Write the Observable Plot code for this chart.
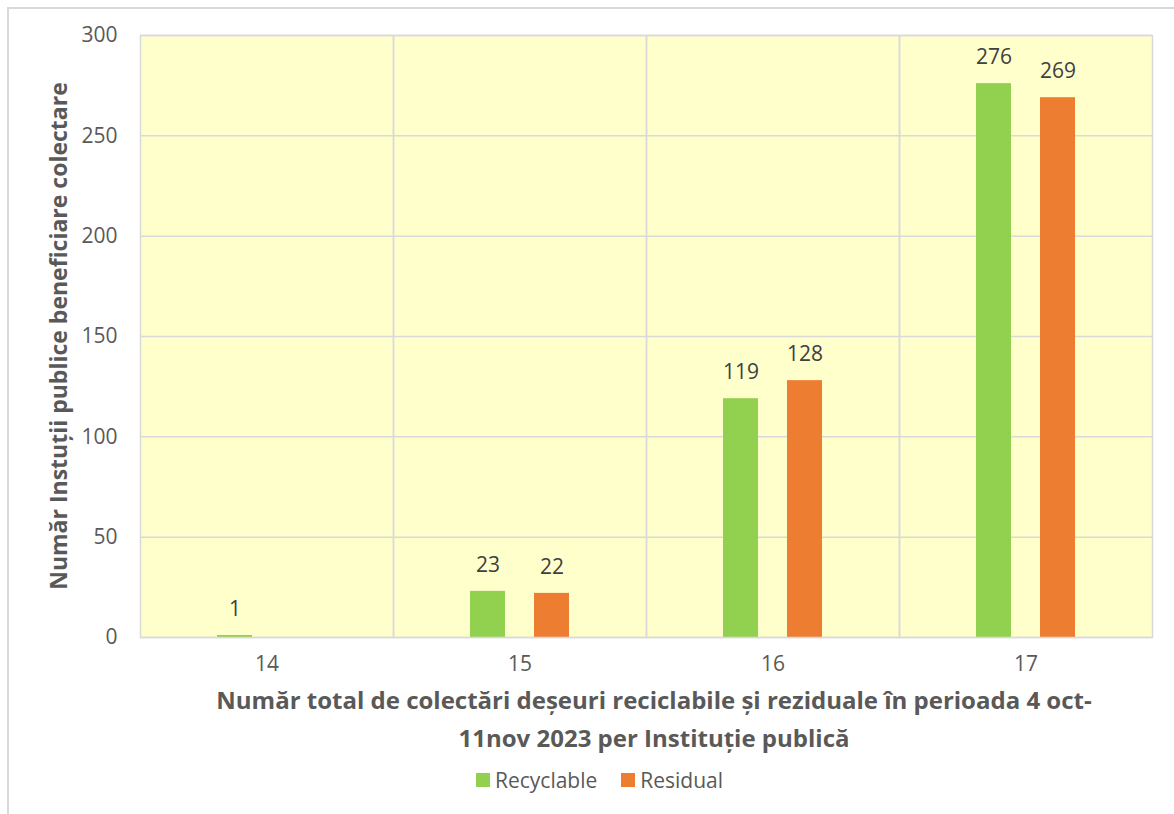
<!DOCTYPE html>
<html><head><meta charset="utf-8">
<script src="https://cdn.jsdelivr.net/npm/d3@7"></script>
<script src="https://cdn.jsdelivr.net/npm/@observablehq/plot@0.6"></script>
<style>
body{margin:0;background:#fff;font-family:"Open Sans",sans-serif;}
#wrap{position:relative;width:1174px;height:814px;overflow:hidden;background:#fff;}
#border{position:absolute;left:7px;top:7px;width:1300px;height:1000px;border-left:2px solid #d9d9d9;border-top:2px solid #d9d9d9;}
#chart{position:absolute;left:0;top:0;}
#xtitle{position:absolute;left:154px;top:681px;width:1000px;text-align:center;font-weight:700;font-size:24px;line-height:38px;color:#595959;white-space:nowrap;}
#ytitle{position:absolute;left:-242px;top:322px;width:600px;height:28px;line-height:28px;text-align:center;font-weight:700;font-size:23px;color:#595959;transform:rotate(-90deg);transform-origin:50% 50%;white-space:nowrap;}
#legend{position:absolute;left:476px;top:766px;height:28px;display:flex;align-items:center;font-size:21px;color:#595959;}
.sw{width:14px;height:14px;display:inline-block;margin-right:5px;}
.item{display:flex;align-items:center;margin-right:24px;}
</style></head>
<body>
<div id="wrap">
  <div id="border"></div>
  <div id="chart"></div>
  <div id="ytitle">Număr Instuții publice beneficiare colectare</div>
  <div id="xtitle">Număr total de colectări deșeuri reciclabile și reziduale în perioada 4 oct-<br>11nov 2023 per Instituție publică</div>
  <div id="legend"></div>
</div>
<script>
const categories = ["14", "15", "16", "17"];
const series = ["Recyclable", "Residual"];
const recyclable = [1, 23, 119, 276];
const residual = [0, 22, 128, 269];
const yTicks = [0, 50, 100, 150, 200, 250, 300];
const colors = ["#92D050", "#ED7D31"];

const data = categories.flatMap((c, i) => [
  {cat: c, series: series[0], value: recyclable[i]},
  {cat: c, series: series[1], value: residual[i]}
]);

const chart = Plot.plot({
  width: 1174,
  height: 700,
  marginLeft: 139,
  marginRight: 22,
  marginTop: 35,
  marginBottom: 63,
  style: {fontFamily: "Open Sans, sans-serif", fontSize: "21px", color: "#595959", background: "transparent"},
  fx: {domain: categories, paddingInner: 0, paddingOuter: 0, label: null, axis: "bottom", tickSize: 0, tickPadding: 19},
  x: {domain: series, axis: null, paddingInner: 0.46, paddingOuter: 1.2},
  y: {domain: [0, 300], ticks: yTicks, tickSize: 0, tickPadding: 23, label: null},
  color: {domain: series, range: colors},
  marks: [
    Plot.frame({fill: "#FFFFCC"}),
    Plot.ruleY(yTicks, {stroke: "#D9D9D9", strokeWidth: 1.5}),
    Plot.barY(data, {fx: "cat", x: "series", y: "value", fill: "series"}),
    Plot.text(data.filter(d => d.value > 0), {fx: "cat", x: "series", y: "value", text: d => String(d.value), dy: -26, fill: "#404040", fontSize: 21}),
    Plot.frame({stroke: "#D9D9D9", strokeWidth: 1.5})
  ]
});
document.getElementById("chart").appendChild(chart);

const legend = document.getElementById("legend");
series.forEach((s, i) => {
  const it = document.createElement("div");
  it.className = "item";
  it.innerHTML = `<span class="sw" style="background:${colors[i]}"></span><span>${s}</span>`;
  legend.appendChild(it);
});
</script>
</body></html>
